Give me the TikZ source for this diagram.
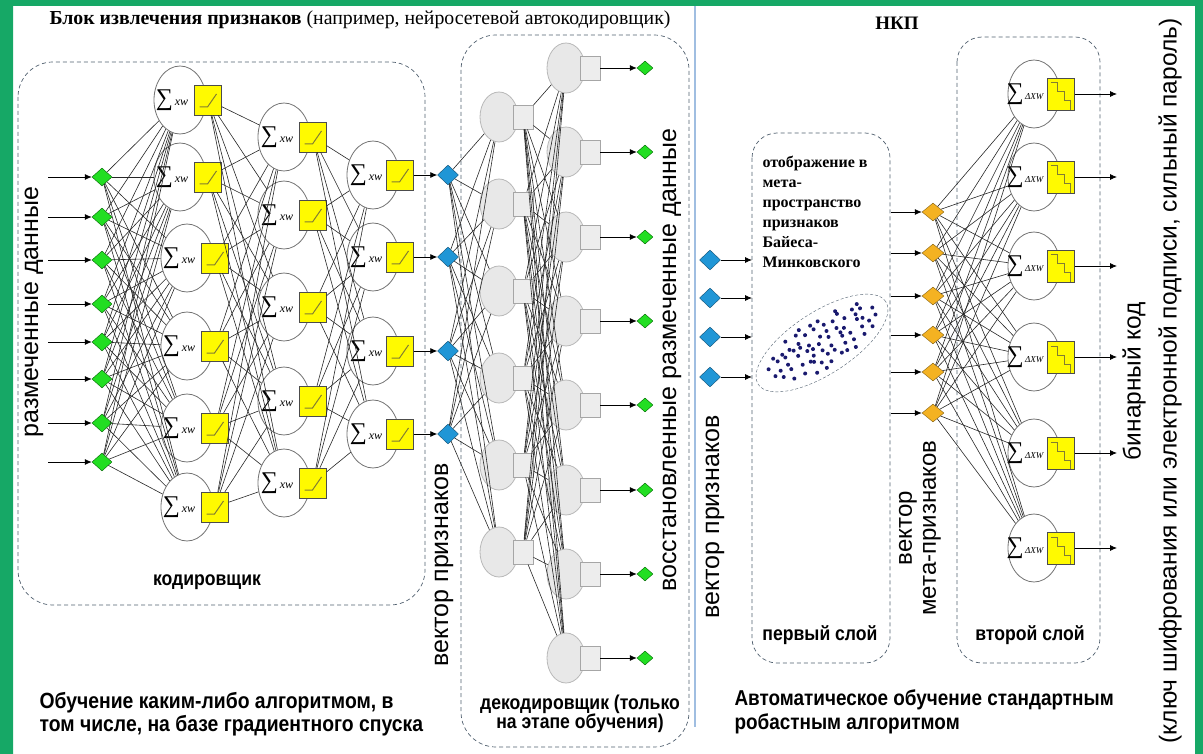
\documentclass[tikz,border=0pt]{standalone}
\usepackage{fontspec}
\setmainfont{Liberation Sans}
\newfontfamily\tnr{Liberation Serif}
\newfontfamily\narrow[FakeStretch=0.88]{Liberation Sans}
\usetikzlibrary{shapes.geometric,arrows.meta}

\definecolor{frame}{RGB}{22,168,102}
\definecolor{ingreen}{RGB}{34,222,34}
\definecolor{featblue}{RGB}{32,150,214}
\definecolor{metaorange}{RGB}{244,178,34}
\definecolor{actyellow}{RGB}{255,250,0}
\definecolor{rampline}{RGB}{130,125,50}
\definecolor{dotnavy}{RGB}{25,25,110}
\definecolor{sepblue}{RGB}{160,190,225}
\definecolor{boxdash}{RGB}{80,95,110}

\newcommand\sxw{{\tnr\fontsize{24}{24}\selectfont ∑}{\tnr\itshape\fontsize{12}{12}\selectfont\,xw}}
\newcommand\sdxw{{\tnr\fontsize{24}{24}\selectfont ∑}{\tnr\itshape\fontsize{9}{9}\selectfont\,ΔXW}}

\tikzset{
  link/.style={draw=black!85, line width=0.6pt},
  arr/.style={-{Latex[length=7pt,width=6pt]}, line width=0.8pt, black},
  group/.style={draw=boxdash, dash pattern=on 4pt off 3pt, line width=0.7pt, rounded corners=35pt},
  neuron/.style={ellipse, draw=black!55, line width=0.8pt, minimum width=52pt, minimum height=68pt, inner sep=0pt},
  relubox/.style={draw=black!70, fill=actyellow, minimum width=27pt, minimum height=30pt, inner sep=0pt,
    path picture={\draw[rampline, line width=1pt] ([shift={(5,-8)}]path picture bounding box.south west) -- ++(8,0) -- ++(9,-13);}},
  stepbox/.style={draw=black!70, fill=actyellow, minimum width=27pt, minimum height=32pt, inner sep=0pt,
    path picture={\draw[rampline, line width=1pt] ([shift={(3,5)}]path picture bounding box.north west) -- ++(7,0) -- ++(0,9) -- ++(7,0) -- ++(0,9) -- ++(6,0) -- ++(0,9);}},
  decneuron/.style={ellipse, draw=black!28, fill=black!9, line width=0.8pt, minimum width=38pt, minimum height=50pt, inner sep=0pt},
  decbox/.style={draw=black!35, fill=black!7, line width=0.8pt, minimum width=20pt, minimum height=24pt, inner sep=0pt},
  sumlbl/.style={inner sep=0pt},
  gdia/.style={diamond, draw=green!40!black, fill=ingreen, minimum width=20pt, minimum height=18pt, inner sep=0pt},
  sgdia/.style={diamond, draw=green!40!black, fill=ingreen, minimum width=16pt, minimum height=14pt, inner sep=0pt},
  bdia/.style={diamond, draw=featblue!55!black, fill=featblue, minimum width=21pt, minimum height=20pt, inner sep=0pt},
  odia/.style={diamond, draw=metaorange!55!black, fill=metaorange, minimum width=22pt, minimum height=18pt, inner sep=0pt},
  bigtxt/.style={rotate=90, font=\fontsize{25}{25}\selectfont},
  capt/.style={font=\narrow\bfseries\fontsize{20}{19}\selectfont}
}

\begin{document}
\begin{tikzpicture}[x=1pt,y=-1pt]
\useasboundingbox (0,0) rectangle (1203,754);
\fill[frame, even odd rule] (0,0) rectangle (1203,754) (13,6) rectangle (1195,754);
\draw[sepblue, line width=1.5pt] (695,6) -- (695,727);

% dashed groups
\draw[group] (18,62) rectangle (425,605);
\draw[group] (461,35) rectangle (689,747);
\draw[group, rounded corners=25pt] (752,133) rectangle (890,663);
\draw[group, rounded corners=25pt] (957,37) rectangle (1100,663);

% titles
\node[anchor=west, font=\tnr\fontsize{19.8}{20}\selectfont] (title) at (46,20) {\textbf{Блок извлечения признаков} (например, нейросетевой автокодировщик)};
\node[font=\tnr\bfseries\fontsize{19}{20}\selectfont] (nkp) at (897,23) {НКП};

% encoder inputs
\foreach \y [count=\i] in {177,217,260,304,342,379,423,462}{
  \coordinate (s\i) at (48,\y);
  \node[gdia] (x\i) at (102,\y) {};
  \draw[arr] (s\i) -- (x\i);
}

% encoder layer 1
\foreach \y/\x [count=\i] in {100/180,177/180,258/187,346/187,428/187,507/187}{
  \node[neuron] (a\i) at (\x,\y) {};
  \node[relubox] (ra\i) at (\x+28,\y) {};
  \node[sumlbl] (ta\i) at (\x-8,\y) {\sxw};
}
% encoder layer 2
\foreach \y [count=\i] in {137,215,307,401,483}{
  \node[neuron] (b\i) at (284,\y) {};
  \node[relubox] (rb\i) at (313,\y) {};
  \node[sumlbl] (tb\i) at (277,\y) {\sxw};
}
% encoder layer 3
\foreach \y [count=\i] in {175,257,351,434}{
  \node[neuron] (c\i) at (373,\y) {};
  \node[relubox] (rc\i) at (400,\y) {};
  \node[sumlbl] (tc\i) at (366,\y) {\sxw};
  \node[bdia] (z\i) at (448,\y) {};
  \draw[arr] (rc\i) -- (z\i);
}
\foreach \i in {1,...,8} \foreach \j in {1,...,6} \draw[link] (x\i) -- (a\j);
\foreach \i in {1,...,6} \foreach \j in {1,...,5} \draw[link] (ra\i) -- (b\j);
\foreach \i in {1,...,5} \foreach \j in {1,...,4} \draw[link] (rb\i) -- (c\j);

% decoder
\foreach \y [count=\i] in {117,204,291,378,465,552}{
  \node[decneuron] (d\i) at (499,\y) {};
  \node[decbox] (rd\i) at (523,\y) {};
}
\foreach \y [count=\i] in {68,152,237,321,405,490,574,658}{
  \node[decneuron] (e\i) at (566,\y) {};
  \node[decbox] (re\i) at (590,\y) {};
  \node[sgdia] (out\i) at (645,\y) {};
  \draw[arr] (re\i) -- (out\i);
}
\foreach \i in {1,...,4} \foreach \j in {1,...,6} \draw[link] (z\i) -- (d\j);
\foreach \i in {1,...,6} \foreach \j in {1,...,8} \draw[link] (rd\i) -- (e\j);

% NKP first layer
\foreach \y [count=\i] in {260,298,337,377}{
  \node[bdia] (p\i) at (710,\y) {};
  \coordinate (f\i) at (752,\y);
  \draw[arr] (p\i) -- (f\i);
}
\node[anchor=north west, align=left, font=\tnr\bfseries\fontsize{16}{20}\selectfont] (maptxt) at (759,153) {отображение в\\мета-\\пространство\\признаков\\Байеса-\\Минковского};
\node[ellipse, draw=boxdash, dash pattern=on 3pt off 2pt, minimum width=152pt, minimum height=62pt, rotate=33] (cloud) at (822,343) {};
\begin{scope}[shift={(822,343)}, rotate=33]
  \pgfmathsetseed{7}
  \foreach \u in {-60,-50,...,60} \foreach \v in {-21,-14,...,21}{
    \pgfmathsetmacro\du{\u+4*rand}
    \pgfmathsetmacro\dv{\v+2.5*rand}
    \pgfmathsetmacro\q{(\du/64)^2+(\dv/24)^2}
    \ifdim\q pt<1pt \fill[dotnavy] (\du,\dv) circle (2pt); \fi
  }
\end{scope}

% NKP second layer
\foreach \y [count=\i] in {212,253,296,335,372,413}{
  \coordinate (g\i) at (891,\y);
  \node[odia] (m\i) at (933,\y) {};
  \draw[arr] (g\i) -- (m\i);
}
\foreach \y [count=\i] in {94,177,266,357,453,548}{
  \node[neuron] (k\i) at (1034,\y) {};
  \node[stepbox] (rk\i) at (1061,\y) {};
  \node[sumlbl] (tk\i) at (1025,\y) {\sdxw};
  \coordinate (o\i) at (1117,\y);
  \draw[arr] (rk\i) -- (o\i);
}
\foreach \i in {1,...,6} \foreach \j in {1,...,6} \draw[link] (m\i) -- (k\j);

% rotated labels
\node[bigtxt] (lblin) at (34,312) {размеченные данные};
\node[bigtxt] (lblfeat) at (444,565) {вектор признаков};
\node[bigtxt] (lblrec) at (672,360) {восстановленные размеченные данные};
\node[bigtxt] (lblfeatb) at (715,517) {вектор признаков};
\node[bigtxt, align=center, font=\fontsize{24}{24}\selectfont] (lblmeta) at (920,528) {вектор\\мета-признаков};
\node[bigtxt, font=\fontsize{24.5}{24}\selectfont] (lblbin) at (1134,381) {бинарный код};
\node[bigtxt, font=\fontsize{24.5}{24}\selectfont] (lblkey) at (1170,381) {(ключ шифрования или электронной подписи, сильный пароль)};

% captions
\node[capt] (enclbl) at (207,582) {кодировщик};
\node[capt, align=center] (declbl) at (580,714) {декодировщик (только\\на этапе обучения)};
\node[capt] (l1lbl) at (820,635) {первый слой};
\node[capt] (l2lbl) at (1030,635) {второй слой};
\node[anchor=north west, align=left, font=\narrow\bfseries\fontsize{22}{23}\selectfont] (trainl) at (36,689) {Обучение каким-либо алгоритмом, в\\том числе, на базе градиентного спуска};
\node[anchor=north west, align=left, font=\narrow\bfseries\fontsize{21.5}{24}\selectfont] (trainr) at (731,686) {Автоматическое обучение стандартным\\робастным алгоритмом};
\end{tikzpicture}
\end{document}
